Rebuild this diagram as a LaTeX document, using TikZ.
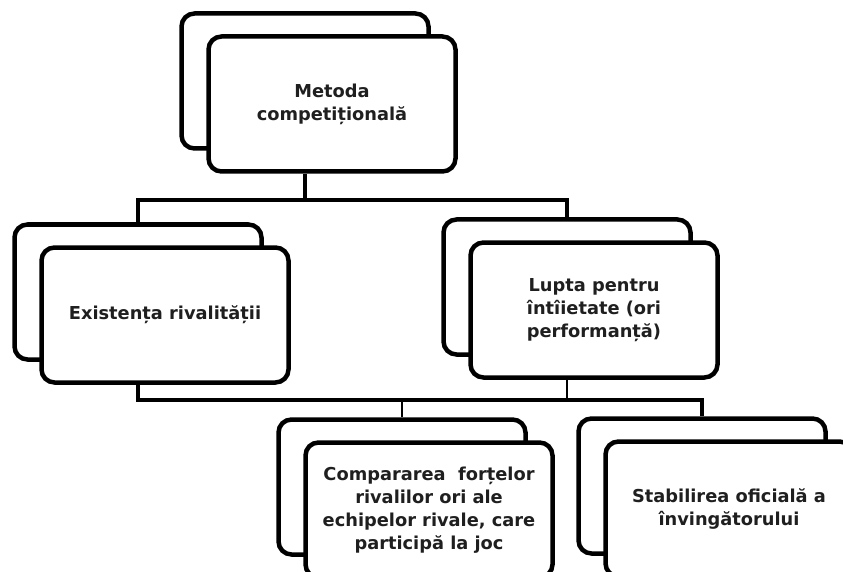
\documentclass[tikz,border=0pt]{standalone}
\usepackage{fontspec}
\setmainfont{DejaVu Sans}
\begin{document}
\begin{tikzpicture}[x=1pt,y=-1pt,
  backbox/.style={draw=black, line width=4.5pt, rounded corners=13pt,
    minimum width=247pt, minimum height=135pt, inner sep=0pt},
  frontbox/.style={backbox, fill=white, align=center, text=black!88,
    font=\bfseries\fontsize{17.8}{23}\selectfont},
  bus/.style={line width=4pt},
  tap/.style={line width=1.5pt}]
\clip (0,0) rectangle (843,572);

% shadow cards behind each box
\node[backbox] (mB) at (305,81)  {};
\node[backbox] (eB) at (138,292) {};
\node[backbox] (lB) at (567,287) {};
\node[backbox] (cB) at (402,487) {};
\node[backbox] (sB) at (702,486) {};

% front cards with the labels
\node[frontbox] (mF) at (332,104) {Metoda\\competițională};
\node[frontbox] (eF) at (165,315) {Existența rivalității};
\node[frontbox] (lF) at (594,310) {Lupta pentru\\întîietate (ori\\performanță)};
\node[frontbox] (cF) at (429,510) {Compararea\ \ forțelor\\rivalilor\ ori ale\\echipelor rivale, care\\participă\ la joc};
\node[frontbox] (sF) at (729,509) {Stabilirea\ oficială a\\învingătorului};

% bus lines
\coordinate (busA) at (0,200);
\coordinate (busB) at (0,400);

\draw[bus] (mF.south -| mB.center) -- (mB.center |- busA);
\draw[bus] (eB.north) -- (eB.north |- busA) -- (lB.north |- busA) -- (lB.north);

\draw[bus] (eF.south -| eB.center) -- (eB.center |- busB) -- (sB.north |- busB) -- (sB.north);
\draw[tap] (lF.south -| lB.center) -- (lB.center |- busB);
\draw[tap] (cB.north) -- (cB.north |- busB);
\end{tikzpicture}
\end{document}
